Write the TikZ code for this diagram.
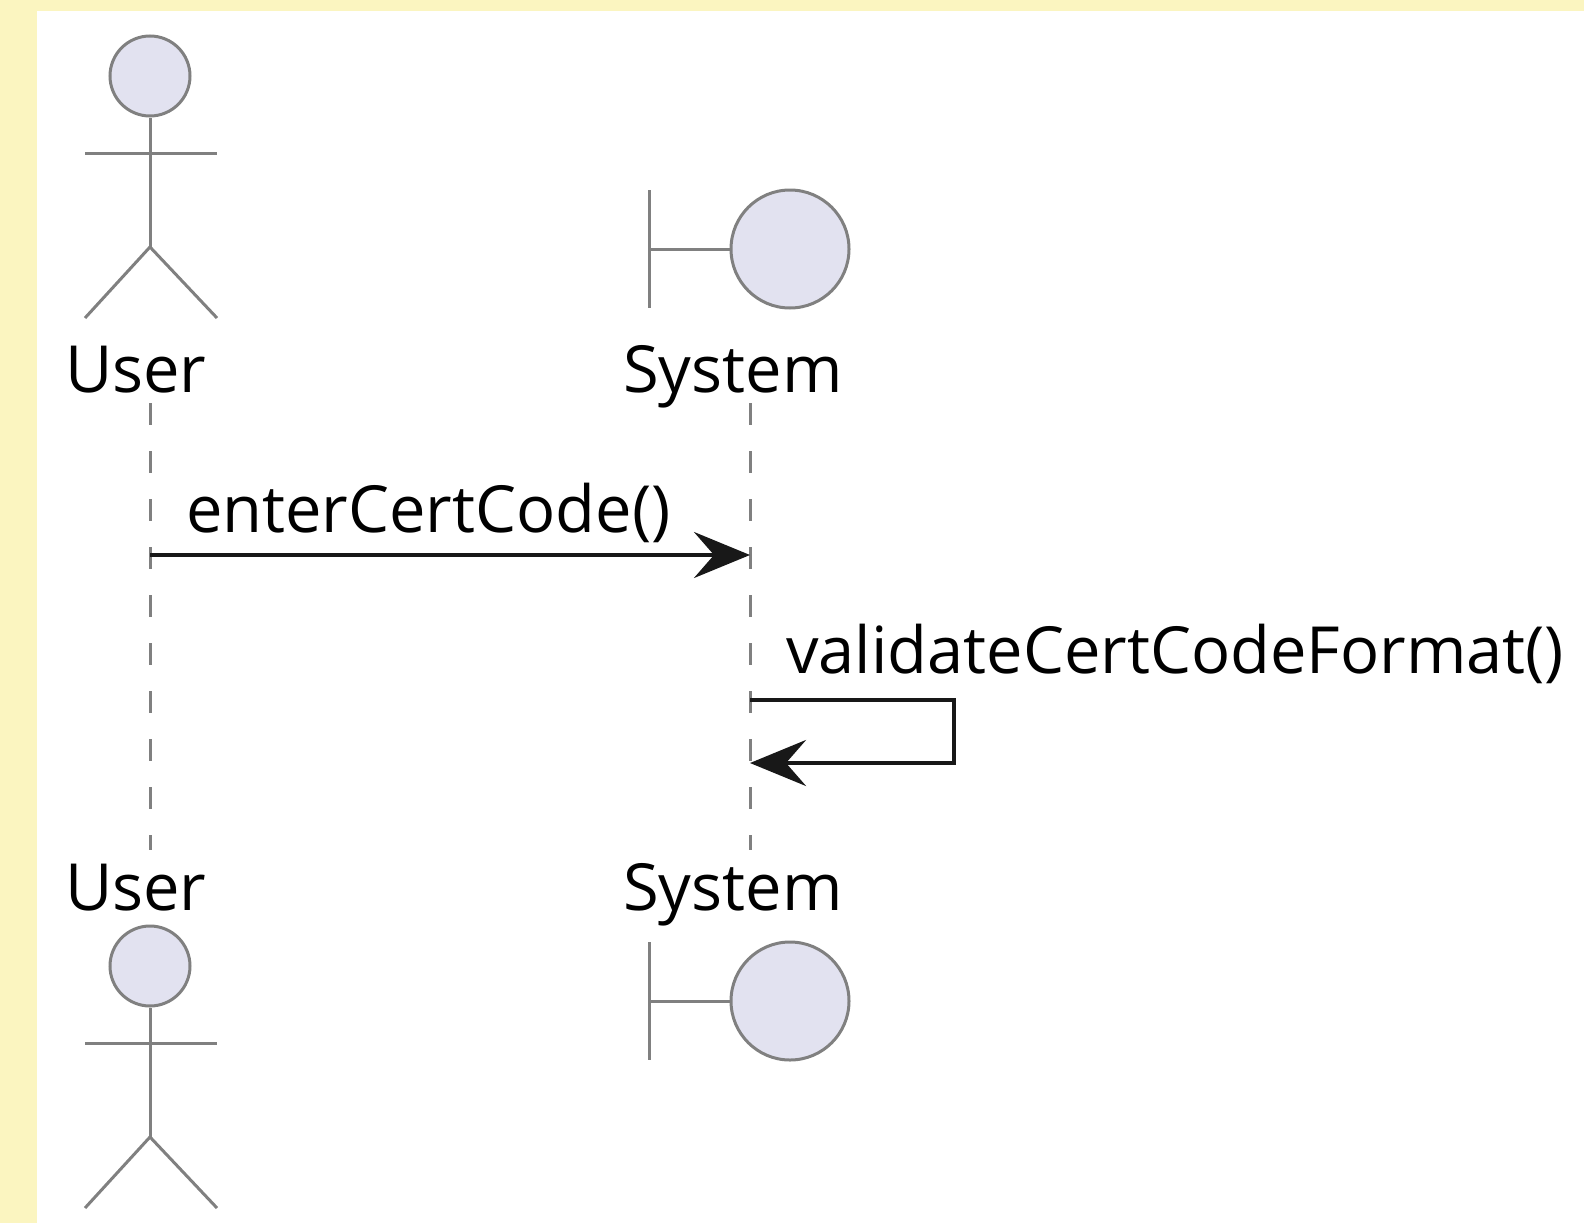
\documentclass[tikz,border=0pt]{standalone}
\usepackage{fontspec}
\setmainfont{Open Sans}
\usetikzlibrary{arrows.meta}
\definecolor{umlbg}{RGB}{251,245,192}
\definecolor{umlline}{RGB}{128,128,128}
\definecolor{umlfill}{RGB}{226,226,240}
\definecolor{umlmsg}{RGB}{24,24,24}

\begin{document}
\begin{tikzpicture}[x=1pt,y=-1pt,
    figline/.style={umlline, line width=3pt},
    headfill/.style={figline, draw, fill=umlfill, circle, inner sep=0pt},
    lifeline/.style={umlline, line width=3pt, dash pattern=on 22pt off 26pt},
    msg/.style={umlmsg, line width=4pt, -{Stealth[length=56pt,width=46pt,inset=20pt]}},
    lbl/.style={inner sep=0pt, anchor=base west, font=\fontsize{65}{78}\selectfont}]

        % Draw the background
        \fill[umlbg] (0,0) rectangle (1584,1223);
        \fill[white] (37,11) rectangle (1584,1223);
        \useasboundingbox (0,0) rectangle (1584,1223);

        % Participant names, top and bottom
        \node[lbl] (userTop) at (65,392) {User};
        \node[lbl] (sysTop) at (623,392) {System};
        \node[lbl] (userBot) at (65,910) {User};
        \node[lbl] (sysBot) at (623,910) {System};

        % Draw the actors
        \foreach \y/\nm in {76/userHeadTop, 966/userHeadBot} {
            \node[headfill, minimum size=80pt] (\nm) at (150,\y) {};
            \draw[figline] (\nm.south) -- (150,\y+171);
            \draw[figline] (85,\y+77) -- (217,\y+77);
            \draw[figline] (85,\y+242) -- (150,\y+171) -- (217,\y+242);
        }

        % Draw the boundaries
        \foreach \y/\nm in {249/sysCircTop, 1001/sysCircBot} {
            \node[headfill, minimum size=118pt] (\nm) at (790,\y) {};
            \draw[figline] (649,\y-59) -- (649,\y+59);
            \draw[figline] (649,\y) -- (\nm.west);
        }

        % Lifelines
        \coordinate (uStart) at (150,403);
        \coordinate (uEnd) at (150,850);
        \coordinate (sStart) at (750,403);
        \coordinate (sEnd) at (750,850);
        \draw[lifeline] (uStart) -- (uEnd);
        \draw[lifeline] (sStart) -- (sEnd);

        % Messages
        \coordinate (m1From) at (150,555);
        \coordinate (m1To) at (750,555);
        \draw[msg] (m1From) -- (m1To);
        \node[lbl] (m1Lbl) at (186,532) {enterCertCode()};

        \coordinate (m2From) at (750,700);
        \coordinate (m2To) at (750,763);
        \draw[msg] (m2From) -- ++(204,0) |- (m2To);
        \node[lbl] (m2Lbl) at (786,673) {validateCertCodeFormat()};
\end{tikzpicture}
\end{document}
